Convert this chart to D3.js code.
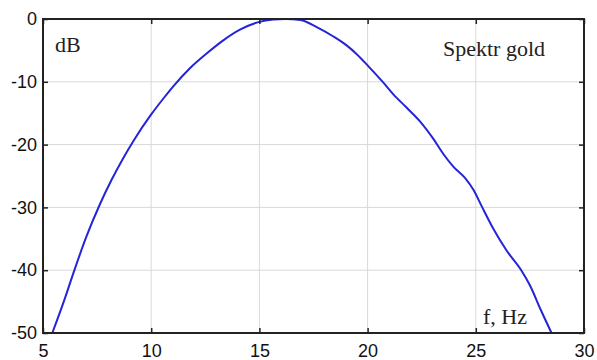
<!DOCTYPE html>
<html>
<head>
<meta charset="utf-8">
<script src="https://cdn.jsdelivr.net/npm/d3@7"></script>
<style>
  body { margin: 0; background: #fff; }
  .tick text { font-family: "Liberation Sans", Arial, sans-serif; font-size: 18px; fill: #111; }
  .note { font-family: "Liberation Serif", "Times New Roman", serif; font-size: 22px; fill: #222; }
</style>
</head>
<body>
<div id="chart"></div>
<script>
// Spectrum values
var freq = [5.43, 6.0, 6.4, 7.0, 7.63, 8.17, 8.7, 9.2, 10.0, 10.6, 11.0, 11.8, 12.56, 13.33, 14.1,
            14.95, 15.64, 16.2, 16.9, 17.65, 18.4, 19.03, 19.5, 20.03, 20.72, 21.19, 21.8, 22.42,
            23.04, 23.5, 23.96, 24.5, 24.89, 25.27, 25.81, 26.43, 27.1, 27.5, 28.0, 28.5];
var level = [-50, -44.6, -40.5, -34.7, -29.5, -25.6, -22.2, -19.3, -15.2, -12.5, -10.8, -7.8, -5.5, -3.4, -1.7,
             -0.5, -0.08, 0, -0.15, -1.3, -2.75, -4.2, -5.6, -7.5, -10.1, -12.0, -14.1, -16.3,
             -19.1, -21.5, -23.5, -25.3, -27.2, -29.8, -33.4, -36.9, -40.0, -42.4, -46.3, -50];
var xTicks = [5, 10, 15, 20, 25, 30];
var yTicks = [0, -10, -20, -30, -40, -50];

var margin = {top: 19, right: 13, bottom: 27, left: 43},
    width = 597 - margin.left - margin.right,
    height = 360 - margin.top - margin.bottom;

var svg = d3.select("#chart").append("svg")
    .attr("width", 597)
    .attr("height", 360)
    .append("g")
    .attr("transform", "translate(" + margin.left + "," + margin.top + ")");

var x = d3.scaleLinear().domain([5, 30]).range([0, width]);
var y = d3.scaleLinear().domain([-50, 0]).range([height, 0]);

// grid
svg.append("g")
    .selectAll("line")
    .data(xTicks.slice(1, -1))
    .join("line")
    .attr("x1", d => x(d)).attr("x2", d => x(d))
    .attr("y1", 0).attr("y2", height)
    .attr("stroke", "#d9d9d9").attr("stroke-width", 1);
svg.append("g")
    .selectAll("line")
    .data(yTicks.slice(1, -1))
    .join("line")
    .attr("y1", d => y(d)).attr("y2", d => y(d))
    .attr("x1", 0).attr("x2", width)
    .attr("stroke", "#d9d9d9").attr("stroke-width", 1);

// curve
var line = d3.line()
    .x((d, i) => x(freq[i]))
    .y(d => y(d))
    .curve(d3.curveMonotoneX);
svg.append("path")
    .datum(level)
    .attr("fill", "none")
    .attr("stroke", "#2424d8")
    .attr("stroke-width", 2)
    .attr("d", line);

// axes, ticks pointing inward, plain hyphen for minus
var fmt = d => String(d);
function style(g) {
    g.select(".domain").remove();
    g.selectAll(".tick line").attr("stroke", "#222").attr("stroke-width", 1.5);
}
svg.append("g")
    .attr("transform", "translate(0," + height + ")")
    .call(d3.axisBottom(x).tickValues(xTicks).tickSize(-5).tickPadding(8).tickFormat(fmt))
    .call(style)
    .selectAll("text").attr("dy", "0.9em");
svg.append("g")
    .call(d3.axisTop(x).tickValues(xTicks).tickSize(-5).tickFormat(""))
    .call(style);
svg.append("g")
    .call(d3.axisLeft(y).tickValues(yTicks).tickSize(-5).tickPadding(6).tickFormat(fmt))
    .call(style);
svg.append("g")
    .attr("transform", "translate(" + width + ",0)")
    .call(d3.axisRight(y).tickValues(yTicks).tickSize(-5).tickFormat(""))
    .call(style);

// frame
svg.append("rect")
    .attr("width", width).attr("height", height)
    .attr("fill", "none").attr("stroke", "#222").attr("stroke-width", 2);

// annotations
svg.append("text").attr("class", "note")
    .attr("x", 12).attr("y", 33).text("dB");
svg.append("text").attr("class", "note")
    .attr("x", 400).attr("y", 37).text("Spektr gold");
svg.append("text").attr("class", "note")
    .attr("x", 440).attr("y", 305).text("f, Hz");
</script>
</body>
</html>
